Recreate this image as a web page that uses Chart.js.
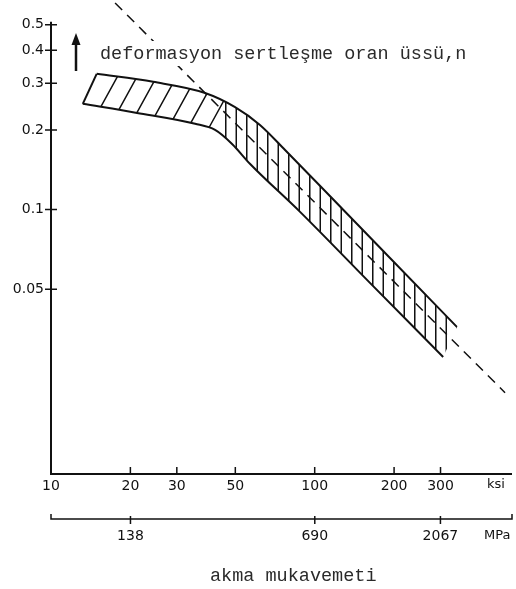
<!DOCTYPE html>
<html>
<head>
<meta charset="utf-8">
<style>
  html, body { margin: 0; padding: 0; background: #fff; }
  #wrap { width: 516px; height: 589px; position: relative; }
</style>
<script src="https://cdn.jsdelivr.net/npm/chart.js@4.4.1/dist/chart.umd.min.js"></script>
</head>
<body>
<div id="wrap"><canvas id="nChart"></canvas></div>
<script>
// strain hardening exponent n vs yield strength, log-log
const upperKsi = [14.9, 24.4, 38.4, 49.9, 62, 77.2, 104.7, 193, 346];
const upperN   = [0.326, 0.304, 0.276, 0.244, 0.209, 0.168, 0.123, 0.0656, 0.036];
const lowerKsi = [13.2, 21.2, 35.2, 41.9, 48.6, 56.8, 88, 162, 307];
const lowerN   = [0.251, 0.232, 0.211, 0.200, 0.177, 0.149, 0.098, 0.0528, 0.0277];
const trendKsi = [17.5, 527];
const trendN   = [0.604, 0.0203];

const ksiTicks = [10, 20, 30, 50, 100, 200, 300];
const mpaTicks = [138, 690, 2067];
const nTicks   = [0.05, 0.1, 0.2, 0.3, 0.4, 0.5];
const KSI_TO_MPA = 6.895;

const INK = '#111';
const tickFont = { family: 'DejaVu Sans', size: 14 };

function pts(xs, ys) {
  return xs.map((x, i) => ({ x: x, y: ys[i] }));
}

function curveThrough(ctx, p, rev) {
  for (let i = 1; i < p.length; i++) {
    const a = p[i - 1], b = p[i];
    if (a.cp1x === undefined || b.cp1x === undefined) {
      ctx.lineTo(b.x, b.y);
    } else if (!rev) {
      ctx.bezierCurveTo(a.cp2x, a.cp2y, b.cp1x, b.cp1y, b.x, b.y);
    } else {
      ctx.bezierCurveTo(a.cp1x, a.cp1y, b.cp2x, b.cp2y, b.x, b.y);
    }
  }
}

function yOnPolyline(p, x) {
  for (let i = 1; i < p.length; i++) {
    if (x <= p[i].x) {
      const t = (x - p[i - 1].x) / (p[i].x - p[i - 1].x);
      return p[i - 1].y + t * (p[i].y - p[i - 1].y);
    }
  }
  return p[p.length - 1].y;
}

// hatching inside the band: slanted on the left, vertical on the right
const bandHatch = {
  id: 'bandHatch',
  beforeDatasetsDraw(chart) {
    const ctx = chart.ctx;
    const xs = chart.scales.x;
    const upMeta = chart.getDatasetMeta(0);
    const loMeta = chart.getDatasetMeta(1);
    upMeta.dataset.updateControlPoints(chart.chartArea, 'x');
    loMeta.dataset.updateControlPoints(chart.chartArea, 'x');
    const up = upMeta.data, lo = loMeta.data;

    ctx.save();
    ctx.beginPath();
    ctx.moveTo(up[0].x, up[0].y);
    curveThrough(ctx, up, false);
    ctx.lineTo(lo[lo.length - 1].x, lo[lo.length - 1].y);
    curveThrough(ctx, lo.slice().reverse(), true);
    ctx.closePath();
    ctx.clip();

    ctx.strokeStyle = INK;
    ctx.lineWidth = 1.5;
    ctx.beginPath();
    const slant = 0.55;
    const diagEnd = xs.getPixelForValue(40);
    for (let ax = lo[0].x + 18; ax < diagEnd; ax += 18) {
      const ay = yOnPolyline(lo, ax);
      ctx.moveTo(ax - slant * 20, ay + 20);
      ctx.lineTo(ax + slant * 70, ay - 70);
    }
    const vStart = xs.getPixelForValue(46);
    for (let vx = vStart; vx < up[up.length - 1].x; vx += 10.5) {
      ctx.moveTo(vx, 0);
      ctx.lineTo(vx, chart.chartArea.bottom);
    }
    ctx.stroke();
    ctx.restore();

    // slanted left end of the band
    ctx.save();
    ctx.strokeStyle = INK;
    ctx.lineWidth = 2;
    ctx.beginPath();
    ctx.moveTo(up[0].x, up[0].y);
    ctx.lineTo(lo[0].x, lo[0].y);
    ctx.stroke();
    ctx.restore();
  }
};

// axis lines, tick marks and free texts
const frame = {
  id: 'frame',
  afterDraw(chart) {
    const ctx = chart.ctx;
    const { x, y, mpa } = chart.scales;
    const area = chart.chartArea;
    ctx.save();
    ctx.strokeStyle = INK;
    ctx.fillStyle = INK;

    // y axis
    ctx.lineWidth = 2;
    ctx.beginPath();
    ctx.moveTo(area.left, y.getPixelForValue(0.5) - 3);
    ctx.lineTo(area.left, area.bottom + 1);
    ctx.stroke();
    ctx.lineWidth = 1.5;
    ctx.beginPath();
    nTicks.forEach(v => {
      const py = y.getPixelForValue(v);
      ctx.moveTo(area.left - 6, py);
      ctx.lineTo(area.left + 6, py);
    });
    ctx.stroke();

    // ksi axis
    ctx.lineWidth = 2;
    ctx.beginPath();
    ctx.moveTo(area.left, area.bottom);
    ctx.lineTo(area.right, area.bottom);
    ctx.stroke();
    ctx.lineWidth = 1.5;
    ctx.beginPath();
    ksiTicks.slice(1).forEach(v => {
      const px = x.getPixelForValue(v);
      ctx.moveTo(px, area.bottom - 7);
      ctx.lineTo(px, area.bottom);
    });
    ctx.stroke();

    // MPa axis
    const my = mpa.top;
    ctx.lineWidth = 1.5;
    ctx.beginPath();
    ctx.moveTo(area.left, my - 5);
    ctx.lineTo(area.left, my);
    ctx.lineTo(area.right, my);
    ctx.lineTo(area.right, my - 5);
    mpaTicks.forEach(v => {
      const px = mpa.getPixelForValue(v);
      ctx.moveTo(px, my - 3);
      ctx.lineTo(px, my + 5);
    });
    ctx.stroke();

    // units
    ctx.font = '13px "DejaVu Sans"';
    ctx.textBaseline = 'middle';
    ctx.textAlign = 'left';
    ctx.fillText('ksi', 487, area.bottom + 11);
    ctx.fillText('MPa', 484, my + 17);

    // axis titles
    ctx.fillStyle = '#fff';
    ctx.fillRect(98, 41, 374, 25);
    ctx.fillStyle = '#2a2a2a';
    ctx.font = '18.5px "Liberation Mono"';
    ctx.textBaseline = 'alphabetic';
    ctx.fillText('deformasyon sertleşme oran üssü,n', 100, 59);
    ctx.fillText('akma mukavemeti', 210, 581);

    // arrow
    ctx.fillStyle = INK;
    ctx.lineWidth = 2.5;
    ctx.beginPath();
    ctx.moveTo(76, 71);
    ctx.lineTo(76, 42);
    ctx.stroke();
    ctx.beginPath();
    ctx.moveTo(76, 33);
    ctx.lineTo(71.5, 45);
    ctx.lineTo(80.5, 45);
    ctx.closePath();
    ctx.fill();
    ctx.restore();
  }
};

const ctx = document.getElementById('nChart').getContext('2d');
new Chart(ctx, {
  type: 'line',
  data: {
    datasets: [{
      label: 'upper',
      data: pts(upperKsi, upperN),
      xAxisID: 'x', yAxisID: 'y',
      borderColor: INK,
      borderWidth: 2,
      pointRadius: 0,
      cubicInterpolationMode: 'monotone',
      fill: false
    }, {
      label: 'lower',
      data: pts(lowerKsi, lowerN),
      xAxisID: 'x', yAxisID: 'y',
      borderColor: INK,
      borderWidth: 2,
      pointRadius: 0,
      cubicInterpolationMode: 'monotone',
      fill: false
    }, {
      label: 'trend',
      data: pts(trendKsi, trendN),
      xAxisID: 'x', yAxisID: 'y',
      borderColor: INK,
      borderWidth: 1.5,
      borderDash: [10, 7],
      pointRadius: 0,
      fill: false
    }]
  },
  options: {
    responsive: true,
    maintainAspectRatio: false,
    animation: false,
    layout: { padding: { left: 0, right: 4, top: 0, bottom: 0 } },
    plugins: {
      legend: { display: false },
      tooltip: { enabled: false }
    },
    scales: {
      x: {
        type: 'logarithmic',
        position: 'bottom',
        weight: 1,
        min: 10,
        max: 560,
        grid: { display: false, drawTicks: false },
        border: { display: false },
        afterBuildTicks: s => { s.ticks = ksiTicks.map(v => ({ value: v })); },
        afterFit: s => { s.height = 45; s.paddingLeft = 0; s.paddingRight = 0; },
        ticks: {
          autoSkip: false, maxRotation: 0, padding: 4,
          color: INK, font: tickFont,
          callback: v => String(v)
        }
      },
      mpa: {
        type: 'logarithmic',
        axis: 'x',
        position: 'bottom',
        weight: 2,
        min: 10 * KSI_TO_MPA,
        max: 560 * KSI_TO_MPA,
        grid: { display: false, drawTicks: false },
        border: { display: false },
        afterBuildTicks: s => { s.ticks = mpaTicks.map(v => ({ value: v })); },
        afterFit: s => { s.height = 70; s.paddingLeft = 0; s.paddingRight = 0; },
        ticks: {
          autoSkip: false, maxRotation: 0, padding: 9,
          color: INK, font: tickFont,
          callback: v => String(v)
        }
      },
      y: {
        type: 'logarithmic',
        position: 'left',
        min: 0.01,
        max: 0.62,
        grid: { display: false, drawTicks: false },
        border: { display: false },
        afterBuildTicks: s => { s.ticks = nTicks.map(v => ({ value: v })); },
        afterFit: s => { s.width = 51; s.paddingTop = 0; s.paddingBottom = 0; },
        ticks: {
          autoSkip: false, padding: 7,
          color: INK, font: tickFont,
          callback: v => String(v)
        }
      }
    }
  },
  plugins: [bandHatch, frame]
});
</script>
</body>
</html>
